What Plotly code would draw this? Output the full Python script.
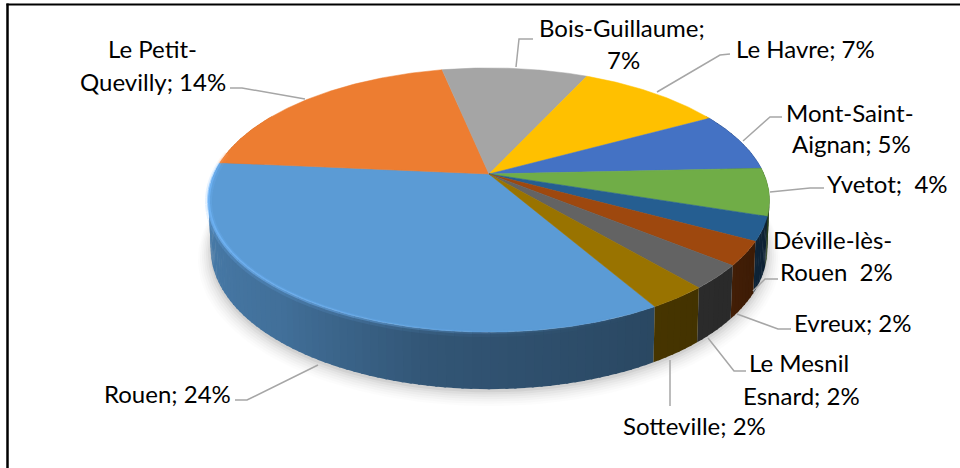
import numpy as np
import plotly.graph_objects as go

# ---------- data ----------
categories = ["Rouen", "Le Petit-Quevilly", "Bois-Guillaume", "Le Havre", "Mont-Saint-Aignan",
              "Yvetot", "Déville-lès-Rouen", "Evreux", "Le Mesnil Esnard", "Sotteville"]
values = [24, 14, 7, 7, 5, 4, 2, 2, 2, 2]
colors = ["#5B9BD5", "#ED7D31", "#A5A5A5", "#FFC000", "#4472C4",
          "#70AD47", "#255E91", "#9E480E", "#636363", "#997300"]
label_lines = [
    ("Le Petit-", 152, 48), ("Quevilly; 14%", 152.5, 81),
    ("Bois-Guillaume;", 622, 27), ("7%", 623, 59),
    ("Le Havre; 7%", 805.5, 48),
    ("Mont-Saint-", 850, 112), ("Aignan; 5%", 851, 143),
    ("Yvetot;  4%", 887, 183),
    ("Déville-lès-", 832, 239), ("Rouen  2%", 836, 271),
    ("Evreux; 2%", 853, 322),
    ("Le Mesnil", 799, 362), ("Esnard; 2%", 801, 395),
    ("Sotteville; 2%", 694, 425),
    ("Rouen; 24%", 167, 393),
]
leaders = [
    [(230, 88), (242, 88), (305, 99)],
    [(533, 39), (519, 39), (516, 67)],
    [(730, 54), (720, 55), (657, 92)],
    [(782, 117), (770, 117), (743, 141)],
    [(824, 188), (810, 188), (770, 192)],
    [(778, 279), (765, 279), (753, 291)],
    [(791, 329), (778, 329), (737, 314)],
    [(746, 371), (734, 371), (708, 338)],
    [(670, 406), (670, 360)],
    [(235, 400), (247, 400), (318, 365)],
]

# ---------- projection of the disc ----------
CX, CY, A, B, K = 489, 174, 275, 127, 0.197
START = 150.0


def top(theta):
    t = np.radians(theta)
    u, v = np.sin(t), -np.cos(t)
    w = 1 - K * v
    return CX + A * u / w, CY + B * v / w, v


def bottom(theta):
    x, y, v = top(theta)
    return CX + (x - CX) * 0.992, y + 47 + 10 * v, v


def shade(hex_c, f):
    r, g, b = [int(hex_c[i:i + 2], 16) for i in (1, 3, 5)]
    return f"rgb({min(255,r*f):.0f},{min(255,g*f):.0f},{min(255,b*f):.0f})"


def side_light(theta):
    # clockwise angle: 90 = right, 180 = front, 270 = left
    pts = [(60, 0.30), (100, 0.32), (130, 0.42), (150, 0.46), (190, 0.55), (220, 0.72), (270, 0.82), (300, 0.85)]
    return np.interp(theta, [p[0] for p in pts], [p[1] for p in pts])


fig = go.Figure()

# soft shadow
th = np.linspace(0, 360, 240)
for grow, alpha in [(13, .012), (11, .015), (9, .018), (7, .022), (5, .028), (3, .035), (1, .05)]:
    bx, by, _ = bottom(th)
    sx = CX + (bx - CX) * (1 + grow / 280)
    sy = by + 2 + grow * 0.6 + (by - np.mean(by)) * grow / 280
    fig.add_trace(go.Scatter(x=sx, y=sy, mode="lines", line=dict(width=0), fill="toself",
                             fillcolor=f"rgba(0,0,0,{alpha})", hoverinfo="skip", showlegend=False))

shares = np.array(values, float) / sum(values) * 360
starts = (START + np.concatenate([[0], np.cumsum(shares)[:-1]])) % 360

# side walls
for s, d, c in zip(starts, shares, colors):
    lo, hi = max(s, 60.0), min(s + d, 300.0)
    if hi <= lo:
        continue
    edges = np.linspace(lo, hi, max(2, int((hi - lo) / 1.5) + 2))
    for a0, a1 in zip(edges[:-1], edges[1:]):
        ang = np.linspace(a0, min(a1 + 0.4, hi), 3)
        tx, ty, _ = top(ang)
        bx, by, _ = bottom(ang)
        fig.add_trace(go.Scatter(
            x=np.concatenate([tx, bx[::-1]]), y=np.concatenate([ty, by[::-1]]),
            mode="lines", line=dict(width=0), fill="toself",
            fillcolor=shade(c, side_light((a0 + a1) / 2)), hoverinfo="skip", showlegend=False))

# top faces
for s, d, c, name in zip(starts, shares, colors, categories):
    ang = np.linspace(s, s + d, max(4, int(d * 2)))
    tx, ty, _ = top(ang)
    fig.add_trace(go.Scatter(
        x=np.concatenate([[CX], tx, [CX]]), y=np.concatenate([[CY], ty, [CY]]),
        mode="lines", line=dict(width=0.5, color=c), fill="toself", fillcolor=c,
        name=name, hoverinfo="skip", showlegend=False))

# bevel highlight along the front rim: a wide faint band under a narrow brighter one
for width, offset, gain in [(7, 1.5, 0.22), (3, 0.5, 0.7)]:
    for s, d, c in zip(starts, shares, colors):
        lo, hi = max(s, 100.0), min(s + d, 280.0)
        if hi <= lo:
            continue
        edges = np.linspace(lo, hi, max(2, int((hi - lo) / 3) + 2))
        for a0, a1 in zip(edges[:-1], edges[1:]):
            mid = (a0 + a1) / 2
            strength = gain * np.interp(mid, [150, 180, 205, 240, 265, 280], [0.0, 0.15, 0.55, 0.9, 0.9, 0.3])
            if strength <= 0:
                continue
            ang = np.linspace(a0, a1, 3)
            tx, ty, _ = top(ang)
            r, g, b = [int(c[i:i + 2], 16) for i in (1, 3, 5)]
            fig.add_trace(go.Scatter(x=tx, y=ty + offset, mode="lines", hoverinfo="skip", showlegend=False,
                                     line=dict(width=width, color=f"rgba({min(255,r+25)},{min(255,g+30)},{min(255,b+40)},{strength:.2f})")))

# leader lines
for pts in leaders:
    fig.add_trace(go.Scatter(x=[p[0] for p in pts], y=[p[1] for p in pts], mode="lines",
                             line=dict(color="#A6A6A6", width=1.5), hoverinfo="skip", showlegend=False))

annotations = [dict(x=x, y=y, text=t, showarrow=False, xanchor="center", yanchor="middle",
                    font=dict(family="Lato, Carlito, sans-serif", size=24, color="#000000"))
               for t, x, y in label_lines]

shapes = [
    dict(type="line", xref="x", yref="y", x0=7.5, y0=3.5, x1=7.5, y1=468, line=dict(color="#000000", width=2.5)),
    dict(type="line", xref="x", yref="y", x0=6.5, y0=4.5, x1=960, y1=4.5, line=dict(color="#000000", width=2)),
]

fig.update_layout(
    width=960, height=468, margin=dict(l=0, r=0, t=0, b=0), autosize=False,
    paper_bgcolor="white", plot_bgcolor="white", showlegend=False,
    xaxis=dict(range=[0, 960], visible=False, fixedrange=True),
    yaxis=dict(range=[468, 0], visible=False, fixedrange=True),
    annotations=annotations, shapes=shapes,
)
fig.write_html("out.html", config={"displayModeBar": False, "responsive": False},
               post_script="document.body.style.margin='0';document.body.style.overflow='hidden';")
